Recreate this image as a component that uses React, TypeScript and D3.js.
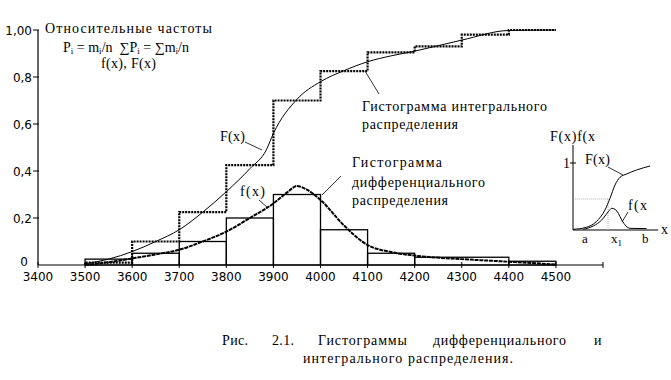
import React from "react";
import * as d3 from "d3";

// ---- data ----
const binEdges = [3500, 3600, 3700, 3800, 3900, 4000, 4100, 4200, 4400, 4500];
const relFreq = [0.025, 0.05, 0.1, 0.2, 0.3, 0.15, 0.05, 0.033, 0.016];

const cumEdges = [3500, 3600, 3700, 3800, 3900, 4000, 4100, 4200, 4300, 4400, 4500];
const cumFreq = [0.01, 0.1, 0.225, 0.425, 0.7, 0.825, 0.905, 0.93, 0.98, 1.0];

const FcurveX = [3500, 3550, 3600, 3650, 3700, 3750, 3800, 3850, 3885, 3900, 3950, 4000, 4050, 4100, 4150, 4200, 4300, 4400, 4500];
const FcurveY = [0.005, 0.025, 0.057, 0.1, 0.15, 0.225, 0.312, 0.41, 0.49, 0.56, 0.705, 0.78, 0.827, 0.865, 0.89, 0.91, 0.957, 0.998, 1.0];

const fcurveX = [3500, 3550, 3600, 3650, 3700, 3750, 3800, 3850, 3900, 3930, 3950, 3970, 4000, 4050, 4100, 4150, 4200, 4300, 4400, 4500];
const fcurveY = [0, 0.012, 0.028, 0.045, 0.065, 0.1, 0.142, 0.2, 0.262, 0.31, 0.336, 0.322, 0.277, 0.168, 0.085, 0.055, 0.04, 0.025, 0.014, 0.002];

const xTicks = [3400, 3500, 3600, 3700, 3800, 3900, 4000, 4100, 4200, 4300, 4400, 4500, 4600];
const xTickLabels = ["3400", "3500", "3600", "3700", "3800", "3900", "4000", "4100", "4200", "4300", "4400", "4500", ""];
const yTicks = [1.0, 0.8, 0.6, 0.4, 0.2];
const yTickLabels = ["1,00", "0,8", "0,6", "0,4", "0,2"];

// inset (schematic) data, unit coordinates
const insetFx = [0, 0.153, 0.268, 0.368, 0.425, 0.483, 0.54, 0.617, 0.732, 0.885];
const insetFy = [0.01, 0.04, 0.125, 0.3, 0.473, 0.672, 0.786, 0.836, 0.896, 0.955];
const insetfx = [0.118, 0.233, 0.33, 0.406, 0.445, 0.483, 0.521, 0.56, 0.609, 0.655, 0.847];
const insetfy = [0.01, 0.06, 0.149, 0.273, 0.324, 0.309, 0.249, 0.149, 0.06, 0.025, 0.02];
const insetX1 = 0.402;

const serif = "'Liberation Serif', 'Times New Roman', serif";
const sans = "'DejaVu Sans', sans-serif";

function T(props: { x: number; y: number; w?: number; size?: number; children: React.ReactNode }) {
  const { x, y, w, size = 14, children } = props;
  return (
    <text x={x} y={y} fontFamily={serif} fontSize={size} fill="#000"
      {...(w ? { textLength: w, lengthAdjust: "spacing" } : {})}>
      {children}
    </text>
  );
}

export default function App() {
  const W = 671, H = 380;
  const x = d3.scaleLinear().domain([3400, 4600]).range([38, 603]);
  const y = d3.scaleLinear().domain([0, 1]).range([265, 30]);

  const cumPts: [number, number][] = [[3500, 0]];
  cumFreq.forEach((v, i) => cumPts.push([cumEdges[i], v]));
  cumPts.push([cumEdges[cumEdges.length - 1], cumFreq[cumFreq.length - 1]]);
  const stepLine = d3.line<[number, number]>().x(d => x(d[0])).y(d => y(d[1])).curve(d3.curveStepAfter);

  const curve = d3.line<[number, number]>().x(d => x(d[0])).y(d => y(d[1])).curve(d3.curveMonotoneX);
  const Fpts = FcurveX.map((v, i) => [v, FcurveY[i]] as [number, number]);
  const fpts = fcurveX.map((v, i) => [v, fcurveY[i]] as [number, number]);

  // inset scales
  const ix = d3.scaleLinear().domain([0, 1]).range([573, 660]);
  const iy = d3.scaleLinear().domain([0, 1]).range([230, 163]);
  const icurve = d3.line<[number, number]>().x(d => ix(d[0])).y(d => iy(d[1])).curve(d3.curveMonotoneX);
  const iF = insetFx.map((v, i) => [v, insetFy[i]] as [number, number]);
  const iff = insetfx.map((v, i) => [v, insetfy[i]] as [number, number]);
  const iFatX1 = 0.463;

  return (
    <svg width={W} height={H} style={{ position: "absolute", left: 0, top: 0, background: "#fff" }}>
      <rect x={0} y={0} width={W} height={H} fill="#fff" />
      {/* axes */}
      <line x1={x(3400)} x2={x(4600)} y1={y(0)} y2={y(0)} stroke="#000" strokeWidth={1.2} />
      <line x1={x(3400)} x2={x(3400)} y1={y(0)} y2={y(1)} stroke="#000" strokeWidth={1.2} />
      {xTicks.map((t, i) => (
        <g key={"xt" + t}>
          <line x1={x(t)} x2={x(t)} y1={y(0) - 3} y2={y(0) + 3} stroke="#000" strokeWidth={1} />
          <text x={x(t)} y={y(0) + 16} textAnchor="middle" fontFamily={sans} fontSize={12} fill="#000">{xTickLabels[i]}</text>
        </g>
      ))}
      {yTicks.map((t, i) => (
        <g key={"yt" + t}>
          <line x1={x(3400) - 5} x2={x(3400) + 1} y1={y(t)} y2={y(t)} stroke="#000" strokeWidth={1} />
          <text x={x(3400) - 6} y={y(t) + 4.5} textAnchor="end" fontFamily={sans} fontSize={12} fill="#000">{yTickLabels[i]}</text>
        </g>
      ))}
      <text x={x(3400) - 10} y={y(0) + 1} textAnchor="end" fontFamily={sans} fontSize={12} fill="#000">0</text>

      {/* differential histogram */}
      {relFreq.map((v, i) => (
        <rect key={"b" + i} x={x(binEdges[i])} y={y(v)} width={x(binEdges[i + 1]) - x(binEdges[i])} height={y(0) - y(v)}
          fill="none" stroke="#000" strokeWidth={1.3} />
      ))}

      {/* cumulative histogram */}
      <path d={stepLine(cumPts) || ""} fill="none" stroke="#000" strokeWidth={2.2} strokeDasharray="2 1" />

      {/* smooth curves */}
      <path d={curve(Fpts) || ""} fill="none" stroke="#000" strokeWidth={1} />
      <path d={curve(fpts) || ""} fill="none" stroke="#000" strokeWidth={2} strokeDasharray="4 0.8" />

      {/* top-left labels */}
      <T x={45} y={33} w={167}>Относительные частоты</T>
      <text x={63} y={52} fontFamily={serif} fontSize={14} fill="#000">
        P<tspan fontSize={9} dy={2}>i</tspan><tspan dy={-2}> = m</tspan><tspan fontSize={9} dy={2}>i</tspan><tspan dy={-2}>/n{"\u00A0\u00A0"}∑P</tspan><tspan fontSize={9} dy={2}>i</tspan><tspan dy={-2}> = ∑m</tspan><tspan fontSize={9} dy={2}>i</tspan><tspan dy={-2}>/n</tspan>
      </text>
      <T x={101} y={68} w={55}>f(x), F(x)</T>

      {/* integral annotation */}
      <T x={362} y={111} w={185}>Гистограмма интегрального</T>
      <T x={362} y={129} w={96}>распределения</T>
      <line x1={379} y1={94} x2={365} y2={71} stroke="#000" strokeWidth={0.8} />

      <T x={220} y={141} w={25}>F(x)</T>
      <line x1={245} y1={142} x2={262} y2={150} stroke="#000" strokeWidth={0.8} />

      {/* differential annotation */}
      <T x={352} y={167} w={90}>Гистограмма</T>
      <T x={352} y={187} w={133}>дифференциального</T>
      <T x={352} y={205} w={96}>распределения</T>
      <line x1={341} y1={176} x2={322} y2={195} stroke="#000" strokeWidth={0.8} />

      <T x={240} y={196} w={25}>f(x)</T>
      <line x1={259} y1={200} x2={268} y2={208} stroke="#000" strokeWidth={0.8} />

      {/* inset */}
      <line x1={ix(0)} x2={ix(0)} y1={145} y2={iy(0)} stroke="#000" strokeWidth={1} />
      <line x1={ix(0)} x2={ix(0.98)} y1={iy(0)} y2={iy(0)} stroke="#000" strokeWidth={1} />
      <line x1={ix(0) - 3} x2={ix(0) + 3} y1={iy(1)} y2={iy(1)} stroke="#000" strokeWidth={1} />
      <line x1={ix(0.02)} x2={ix(insetX1)} y1={iy(iFatX1)} y2={iy(iFatX1)} stroke="#aaa" strokeWidth={1} strokeDasharray="1 1" />
      <line x1={ix(insetX1)} x2={ix(insetX1)} y1={iy(iFatX1)} y2={iy(0)} stroke="#aaa" strokeWidth={1} strokeDasharray="1 1" />
      <path d={icurve(iF) || ""} fill="none" stroke="#000" strokeWidth={1} />
      <path d={icurve(iff) || ""} fill="none" stroke="#000" strokeWidth={1} />
      <T x={550} y={141} w={45}>F(x)f(x</T>
      <T x={563} y={168}>1</T>
      <T x={585} y={164} w={25}>F(x)</T>
      <line x1={608} y1={167} x2={623} y2={175} stroke="#000" strokeWidth={0.8} />
      <T x={628} y={210} w={19}>f(x</T>
      <line x1={628} y1={212} x2={622} y2={222} stroke="#000" strokeWidth={0.8} />
      <T x={661} y={234}>x</T>
      <T x={582} y={243} size={13}>a</T>
      <text x={611} y={243} fontFamily={serif} fontSize={13} fill="#000">x<tspan fontSize={9} dy={3}>1</tspan></text>
      <T x={642} y={243} size={13}>b</T>

      {/* caption */}
      <T x={222} y={345} w={26}>Рис.</T>
      <T x={272} y={345} w={22}>2.1.</T>
      <T x={318} y={345} w={89}>Гистограммы</T>
      <T x={433} y={345} w={133}>дифференциального</T>
      <T x={594} y={345}>и</T>
      <T x={303} y={363} w={210}>интегрального распределения.</T>
    </svg>
  );
}
